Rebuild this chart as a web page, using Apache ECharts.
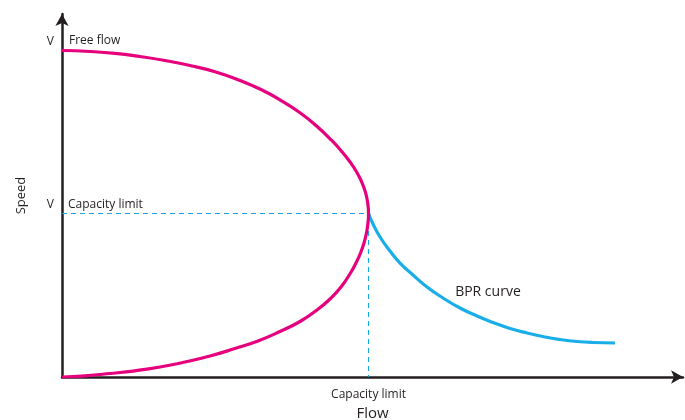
<!DOCTYPE html>
<html>
<head>
<meta charset="utf-8">
<script src="https://cdn.jsdelivr.net/npm/echarts@6/dist/echarts.min.js"></script>
<style>
  html, body { margin: 0; padding: 0; background: #fff; }
  #chart { width: 685px; height: 420px; }
</style>
</head>
<body>
<div id="chart"></div>
<script>
// speed-flow curve (flow, speed): free flow -> capacity -> origin
const speedFlow = [
  [0, 89.94], [4.52, 89.67], [8.55, 89.17], [12.58, 88.29], [16.61, 87.19],
  [20.65, 85.81], [24.68, 84.10], [28.71, 81.68], [32.26, 79.06], [35.48, 76.03],
  [38.39, 72.81], [40.97, 69.28], [43.47, 65.23], [45.08, 62.20], [46.40, 59.37],
  [47.50, 56.56], [48.34, 53.69], [48.95, 50.85], [49.31, 47.93], [49.44, 45.04],
  [49.35, 42.42], [49.11, 39.67], [48.71, 36.91], [48.15, 34.16], [47.42, 31.40],
  [46.53, 28.65], [45.00, 24.79], [43.23, 21.49], [41.13, 18.46], [38.39, 15.29],
  [35.16, 12.53], [31.61, 9.92], [27.90, 7.85], [23.87, 5.79], [19.84, 4.13],
  [15.81, 2.75], [11.77, 1.71], [7.74, 0.96], [3.71, 0.33], [0, 0]
];
// BPR curve beyond capacity
const bprCurve = [
  [49.44, 45.04], [50.16, 42.15], [51.29, 38.57], [52.90, 34.71], [54.52, 31.40],
  [56.61, 28.10], [58.87, 24.79], [61.45, 21.76], [64.19, 19.01], [66.94, 16.80],
  [69.52, 15.01], [72.26, 13.36], [75.00, 12.12], [77.90, 11.02], [80.32, 10.33],
  [83.06, 9.78], [85.65, 9.50], [89.19, 9.37]
];
const freeFlow = [0, 89.94];
const capacity = [49.44, 45.04];
const bprLabelAt = [62.6, 23.4];

const font = '"Open Sans", "Noto Sans", sans-serif';
const textColor = '#231f20';
const axisColor = '#231f20';
const magenta = '#e6007e';
const cyan = '#1aaee8';

let myChart = echarts.init(document.getElementById('chart'));
let option = {
  animation: false,
  grid: { left: 62, right: 2, top: 14, bottom: 43, outerBoundsMode: 'none', containLabel: false },
  xAxis: {
    type: 'value',
    min: 0,
    max: 100.16,
    name: 'Flow',
    nameLocation: 'middle',
    nameGap: 26,
    nameTextStyle: { fontFamily: font, fontSize: 15, color: textColor },
    axisLine: {
      show: true,
      symbol: ['none', 'arrow'],
      symbolSize: [10, 12],
      lineStyle: { color: axisColor, width: 2.5 }
    },
    axisTick: { show: false },
    splitLine: { show: false },
    axisLabel: {
      customValues: [capacity[0]],
      formatter: () => 'Capacity limit',
      margin: 12,
      fontFamily: font,
      fontSize: 12,
      color: textColor
    }
  },
  yAxis: {
    type: 'value',
    min: 0,
    max: 100,
    name: 'Speed',
    nameLocation: 'middle',
    nameGap: 34,
    nameRotate: 90,
    nameTextStyle: { fontFamily: font, fontSize: 13, color: textColor },
    axisLine: {
      show: true,
      symbol: ['none', 'arrow'],
      symbolSize: [10, 12],
      lineStyle: { color: axisColor, width: 2.5 }
    },
    axisTick: { show: false },
    splitLine: { show: false },
    axisLabel: {
      customValues: [freeFlow[1], capacity[1]],
      formatter: () => 'V',
      margin: 8,
      verticalAlign: 'bottom',
      padding: [0, 0, 3, 0],
      fontFamily: font,
      fontSize: 12,
      color: textColor
    }
  },
  series: [
    {
      // dashed guide to the capacity point
      name: 'capacity guide',
      type: 'line',
      data: [[0, capacity[1]], capacity, [capacity[0], 0]],
      showSymbol: false,
      silent: true,
      lineStyle: { color: '#1ca6e4', width: 1.2, type: [5, 4] },
      z: 1
    },
    {
      name: 'speed-flow',
      type: 'line',
      data: speedFlow,
      smooth: 0.5,
      showSymbol: false,
      lineStyle: { color: magenta, width: 3.2 },
      z: 3,
      markPoint: {
        symbol: 'circle',
        symbolSize: 0,
        label: {
          show: true,
          position: 'right',
          fontFamily: font,
          fontSize: 12,
          color: textColor
        },
        data: [
          { coord: freeFlow, label: { formatter: 'Free flow', offset: [2, -10] } },
          { coord: [0, capacity[1]], label: { formatter: 'Capacity limit', offset: [1, -9] } }
        ]
      }
    },
    {
      name: 'BPR',
      type: 'line',
      data: bprCurve,
      smooth: 0.5,
      showSymbol: false,
      lineStyle: { color: cyan, width: 3.2 },
      z: 2,
      markPoint: {
        symbol: 'circle',
        symbolSize: 0,
        label: {
          show: true,
          position: 'right',
          formatter: 'BPR curve',
          fontFamily: font,
          fontSize: 14,
          color: textColor
        },
        data: [{ coord: bprLabelAt }]
      }
    }
  ]
};
myChart.setOption(option);
</script>
</body>
</html>
